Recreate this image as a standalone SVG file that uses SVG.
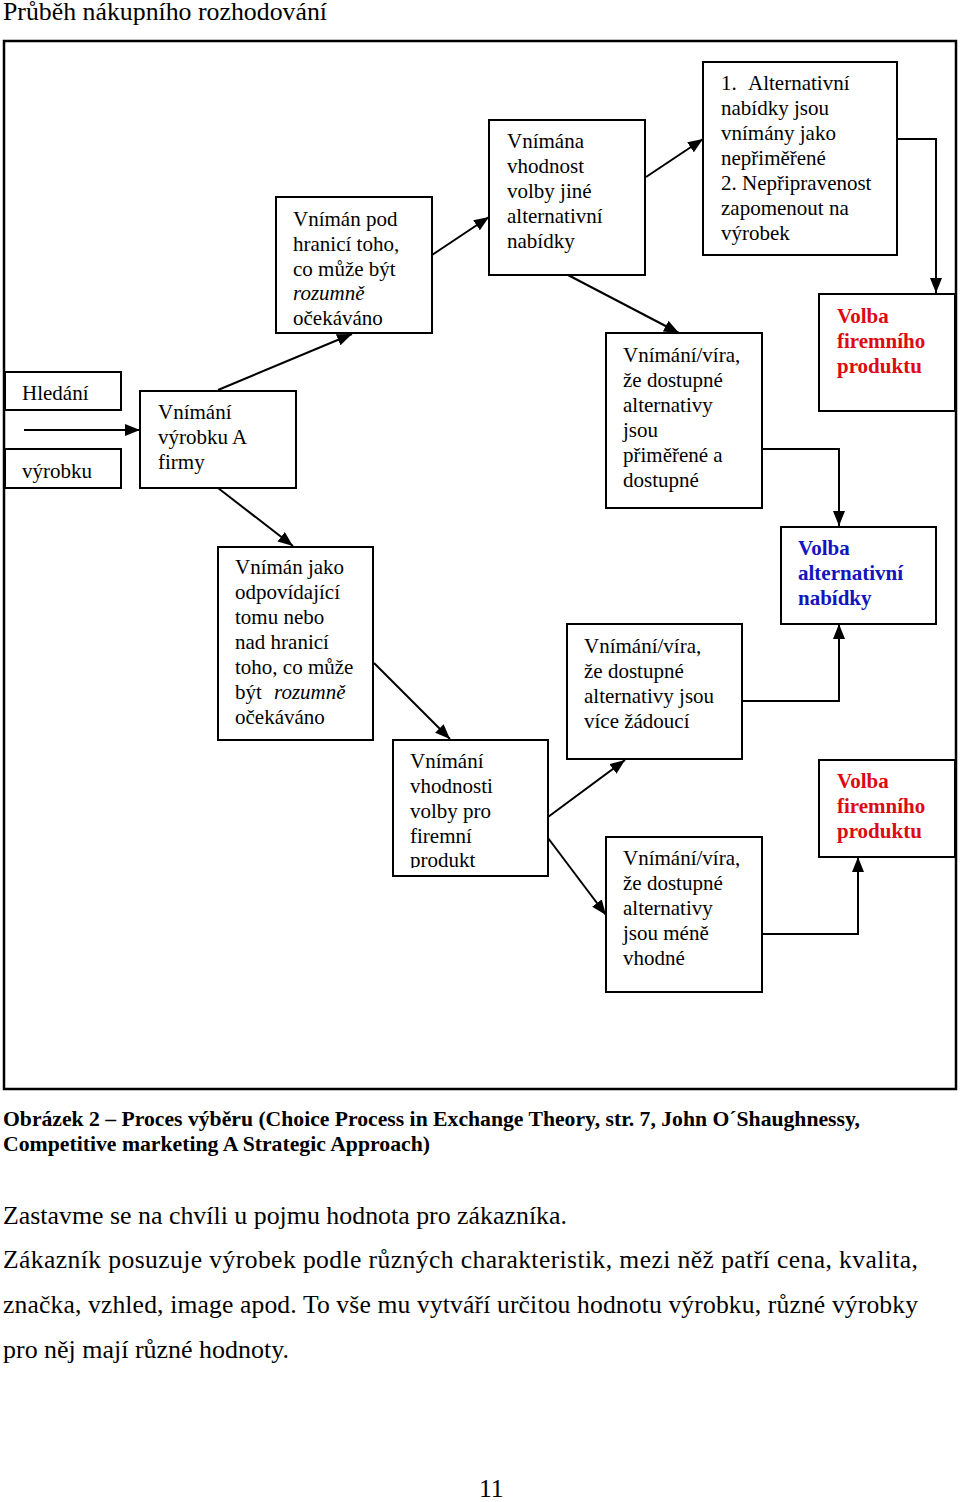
<svg xmlns="http://www.w3.org/2000/svg" width="960" height="1502" viewBox="0 0 960 1502">
<style>
text{font-family:"Liberation Serif","Times New Roman",serif;fill:#000}
.b{font-size:21px}
.box{fill:#fff;stroke:#000;stroke-width:2}
.red{fill:#dd0a14;font-weight:bold;font-size:21px}
.blue{fill:#1414be;font-weight:bold;font-size:21px}
.con{stroke:#000;stroke-width:2;fill:none}
.ar{marker-end:url(#ah)}
.it{font-style:italic}
.cap{font-size:21px;font-weight:bold}
.body{font-size:25.6px}
</style>
<defs>
<marker id="ah" markerUnits="userSpaceOnUse" markerWidth="16" markerHeight="12" refX="15" refY="6" orient="auto">
<path d="M0,0 L15,6 L0,12 z" fill="#000"/>
</marker>
<clipPath id="clip14"><rect x="393" y="740" width="155" height="128"/></clipPath>
</defs>
<rect width="960" height="1502" fill="#fff"/>
<text x="3" y="20" style="font-size:25.6px" textLength="324" lengthAdjust="spacingAndGlyphs">Průběh nákupního rozhodování</text>
<rect x="4" y="41" width="952" height="1048" fill="none" stroke="#000" stroke-width="2.5"/>

<g id="connectors">
<line class="con ar" x1="24" y1="430" x2="140" y2="430"/>
<line class="con ar" x1="218" y1="390" x2="352" y2="334"/>
<line class="con ar" x1="432" y1="255" x2="489" y2="217"/>
<line class="con ar" x1="646" y1="177" x2="703" y2="139"/>
<polyline class="con ar" points="897,139 936,139 936,293"/>
<line class="con ar" x1="568" y1="275" x2="679" y2="333"/>
<polyline class="con ar" points="762,449 839,449 839,526"/>
<line class="con ar" x1="218" y1="488" x2="293" y2="546"/>
<line class="con ar" x1="374" y1="663" x2="450" y2="739"/>
<polyline class="con ar" points="742,701 839,701 839,624"/>
<line class="con ar" x1="548" y1="817" x2="625" y2="760"/>
<line class="con ar" x1="548" y1="838" x2="606" y2="915"/>
<polyline class="con ar" points="762,934 858,934 858,857"/>
</g>

<g id="n-hledani">
<rect class="box" x="5" y="372" width="116" height="38"/>
<text class="b" x="22" y="400">Hledání</text>
</g>
<g id="n-vyrobku">
<rect class="box" x="5" y="449" width="116" height="39"/>
<text class="b" x="22" y="478">výrobku</text>
</g>
<g id="n-vnimani-a">
<rect class="box" x="140" y="391" width="156" height="97"/>
<text class="b" x="158" y="419">Vnímání</text>
<text class="b" x="158" y="444">výrobku A</text>
<text class="b" x="158" y="469">firmy</text>
</g>
<g id="n-pod-hranici">
<rect class="box" x="276" y="197" width="156" height="136"/>
<text class="b" x="293" y="226">Vnímán pod</text>
<text class="b" x="293" y="251">hranicí toho,</text>
<text class="b" x="293" y="276">co může být</text>
<text class="b it" x="293" y="300">rozumně</text>
<text class="b" x="293" y="325">očekáváno</text>
</g>
<g id="n-vnimana-vhodnost">
<rect class="box" x="489" y="120" width="156" height="155"/>
<text class="b" x="507" y="148">Vnímána</text>
<text class="b" x="507" y="173">vhodnost</text>
<text class="b" x="507" y="198">volby jiné</text>
<text class="b" x="507" y="223">alternativní</text>
<text class="b" x="507" y="248">nabídky</text>
</g>
<g id="n-alternativni">
<rect class="box" x="703" y="62" width="194" height="193"/>
<text class="b" x="721" y="90">1.</text>
<text class="b" x="748" y="90">Alternativní</text>
<text class="b" x="721" y="115">nabídky jsou</text>
<text class="b" x="721" y="140">vnímány jako</text>
<text class="b" x="721" y="165">nepřiměřené</text>
<text class="b" x="721" y="190">2. Nepřipravenost</text>
<text class="b" x="721" y="215">zapomenout na</text>
<text class="b" x="721" y="240">výrobek</text>
</g>
<g id="n-volba-firemniho-1">
<rect class="box" x="819" y="294" width="136" height="117"/>
<text class="red" x="837" y="323">Volba</text>
<text class="red" x="837" y="348">firemního</text>
<text class="red" x="837" y="373">produktu</text>
</g>
<g id="n-primerene">
<rect class="box" x="606" y="333" width="156" height="175"/>
<text class="b" x="623" y="362">Vnímání/víra,</text>
<text class="b" x="623" y="387">že dostupné</text>
<text class="b" x="623" y="412">alternativy</text>
<text class="b" x="623" y="437">jsou</text>
<text class="b" x="623" y="462">přiměřené a</text>
<text class="b" x="623" y="487">dostupné</text>
</g>
<g id="n-volba-alternativni">
<rect class="box" x="781" y="527" width="155" height="97"/>
<text class="blue" x="798" y="555">Volba</text>
<text class="blue" x="798" y="580">alternativní</text>
<text class="blue" x="798" y="605">nabídky</text>
</g>
<g id="n-odpovidajici">
<rect class="box" x="218" y="547" width="155" height="193"/>
<text class="b" x="235" y="574">Vnímán jako</text>
<text class="b" x="235" y="599">odpovídající</text>
<text class="b" x="235" y="624">tomu nebo</text>
<text class="b" x="235" y="649">nad hranicí</text>
<text class="b" x="235" y="674">toho, co může</text>
<text class="b" x="235" y="699">být</text>
<text class="b it" x="274" y="699">rozumně</text>
<text class="b" x="235" y="724">očekáváno</text>
</g>
<g id="n-zadouci">
<rect class="box" x="567" y="624" width="175" height="135"/>
<text class="b" x="584" y="653">Vnímání/víra,</text>
<text class="b" x="584" y="678">že dostupné</text>
<text class="b" x="584" y="703">alternativy jsou</text>
<text class="b" x="584" y="728">více žádoucí</text>
</g>
<g id="n-vhodnosti-firemni">
<rect class="box" x="393" y="740" width="155" height="136"/>
<g clip-path="url(#clip14)">
<text class="b" x="410" y="768">Vnímání</text>
<text class="b" x="410" y="793">vhodnosti</text>
<text class="b" x="410" y="818">volby pro</text>
<text class="b" x="410" y="843">firemní</text>
<text class="b" x="410" y="867">produkt</text>
</g>
</g>
<g id="n-volba-firemniho-2">
<rect class="box" x="819" y="760" width="136" height="97"/>
<text class="red" x="837" y="788">Volba</text>
<text class="red" x="837" y="813">firemního</text>
<text class="red" x="837" y="838">produktu</text>
</g>
<g id="n-mene-vhodne">
<rect class="box" x="606" y="837" width="156" height="155"/>
<text class="b" x="623" y="865">Vnímání/víra,</text>
<text class="b" x="623" y="890">že dostupné</text>
<text class="b" x="623" y="915">alternativy</text>
<text class="b" x="623" y="940">jsou méně</text>
<text class="b" x="623" y="965">vhodné</text>
</g>

<text class="cap" x="3" y="1126" textLength="857" lengthAdjust="spacingAndGlyphs">Obrázek 2 – Proces výběru (Choice Process in Exchange Theory, str. 7, John O´Shaughnessy,</text>
<text class="cap" x="3" y="1151" textLength="427" lengthAdjust="spacingAndGlyphs">Competitive marketing A Strategic Approach)</text>
<text class="body" x="3" y="1224" textLength="564" lengthAdjust="spacingAndGlyphs">Zastavme se na chvíli u pojmu hodnota pro zákazníka.</text>
<text class="body" x="3" y="1268" textLength="915" lengthAdjust="spacing">Zákazník posuzuje výrobek podle různých charakteristik, mezi něž patří cena, kvalita,</text>
<text class="body" x="3" y="1313" textLength="915" lengthAdjust="spacing">značka, vzhled, image apod. To vše mu vytváří určitou hodnotu výrobku, různé výrobky</text>
<text class="body" x="3" y="1358" textLength="286" lengthAdjust="spacingAndGlyphs">pro něj mají různé hodnoty.</text>
<text class="body" x="479" y="1497">11</text>
</svg>
